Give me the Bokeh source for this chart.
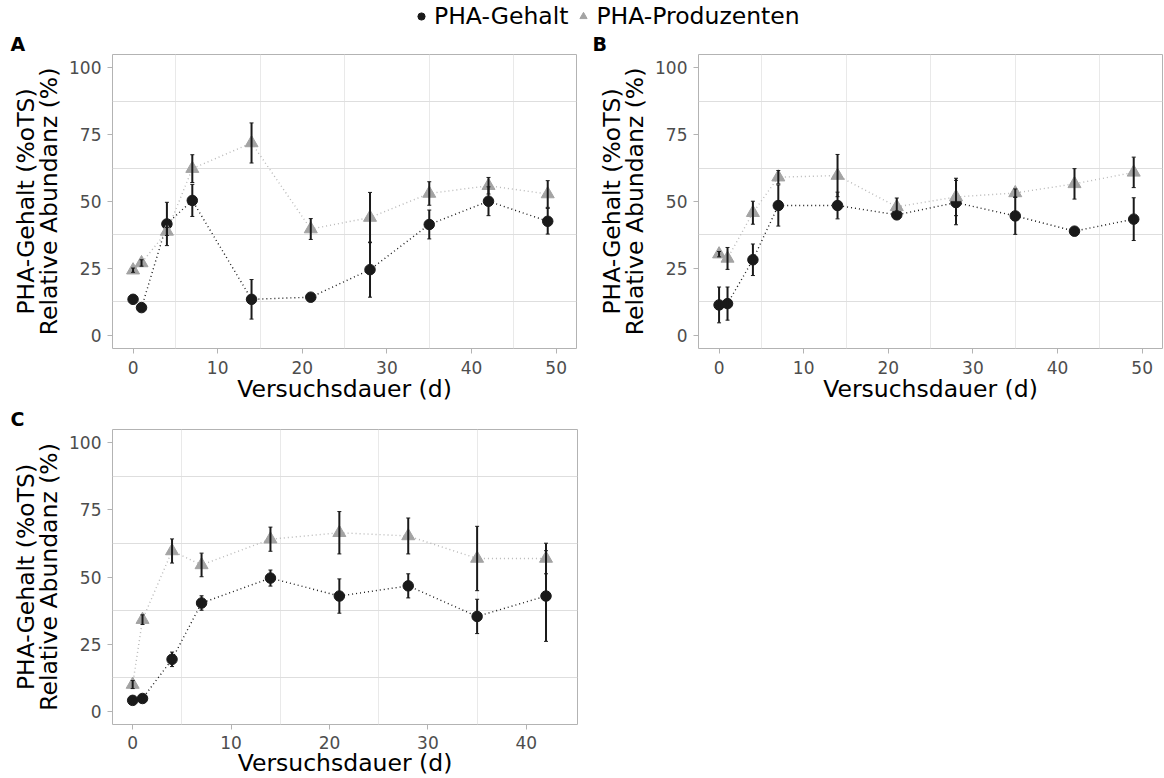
from bokeh.plotting import figure
from bokeh.models import Range1d, FixedTicker, Whisker, ColumnDataSource, Legend, LegendItem, TeeHead
from bokeh.layouts import column, row
from bokeh.embed import file_html
from bokeh.resources import INLINE

# Sampling days (d)
days_ab = [0, 1, 4, 7, 14, 21, 28, 35, 42, 49]
days_c = [0, 1, 4, 7, 14, 21, 28, 35, 42]

# Reactor A
a_gehalt = [13.4, 10.3, 41.6, 50.4, 13.4, 14.2, 24.5, 41.4, 50.1, 42.6]
a_gehalt_sd = [1.0, 0.8, 8.1, 6.0, 7.4, 0.8, 10.3, 5.4, 5.4, 4.8]
a_prod = [24.3, 27.0, 38.8, 62.3, 71.9, 39.7, 44.0, 53.0, 55.9, 52.8]
a_prod_sd = [0.8, 1.2, 1.5, 5.2, 7.5, 3.9, 9.4, 4.4, 3.1, 5.0]

# Reactor B
b_gehalt = [11.3, 11.8, 28.2, 48.5, 48.5, 45.0, 49.6, 44.6, 38.9, 43.4]
b_gehalt_sd = [6.7, 6.2, 5.9, 7.7, 5.0, 1.5, 8.3, 6.9, 1.5, 8.0]
b_prod = [30.3, 28.7, 45.8, 59.1, 59.7, 48.0, 51.7, 53.2, 56.6, 60.9]
b_prod_sd = [1.0, 4.1, 4.3, 2.5, 7.9, 3.3, 7.0, 1.5, 5.7, 5.7]

# Reactor C
c_gehalt = [4.0, 4.7, 19.3, 40.3, 49.6, 42.9, 46.7, 35.3, 42.9]
c_gehalt_sd = [0.8, 0.8, 2.7, 2.7, 3.0, 6.4, 4.5, 6.4, 16.9]
c_prod = [9.9, 34.1, 59.7, 54.5, 64.1, 66.5, 65.3, 56.9, 56.9]
c_prod_sd = [1.5, 1.8, 4.5, 4.4, 4.5, 7.9, 6.7, 12.0, 5.7]

y_ticks = [0, 25, 50, 75, 100]
x_ticks_ab = [0, 10, 20, 30, 40, 50]
x_ticks_c = [0, 10, 20, 30, 40]

series_labels = ["PHA-Gehalt", "PHA-Produzenten"]
x_title = "Versuchsdauer (d)"
y_title = "PHA-Gehalt (%oTS)\nRelative Abundanz (%)"

FONT = "DejaVu Sans"
BLACK = "#1a1a1a"
GREY = "#a3a3a3"
GREY_LINE = "#b8b8b8"
BORDER = "#b3b3b3"
TITLE_SIZE = "23.5px"


def panel(tag, days, geh, geh_sd, prod, prod_sd, x_start, x_end, x_ticks,
          frame_w, frame_h, left, right, top, bottom,
          tick_standoff, title_standoff):
    p = figure(frame_width=frame_w, frame_height=frame_h,
               x_range=Range1d(x_start, x_end), y_range=Range1d(-5, 105),
               min_border_left=left, min_border_right=right,
               min_border_top=top, min_border_bottom=bottom,
               output_backend="svg", toolbar_location=None)
    p.background_fill_color = "white"
    p.border_fill_color = "white"
    p.outline_line_color = BORDER
    p.outline_line_width = 1

    # panel tag in the upper left corner
    p.title.text = tag
    p.title.align = "left"
    p.title.offset = 10 - left
    p.title.standoff = 0
    p.title.text_font = FONT
    p.title.text_font_size = "19px"
    p.title.text_font_style = "bold"
    p.title.text_color = "black"

    # grid lines sit halfway between the labelled ticks
    p.xgrid.ticker = FixedTicker(ticks=[t + 5 for t in x_ticks[:-1]])
    p.ygrid.ticker = FixedTicker(ticks=[t + 12.5 for t in y_ticks[:-1]])
    p.xgrid.grid_line_color = "#e9e9e9"
    p.ygrid.grid_line_color = "#dedede"
    p.grid.grid_line_width = 1

    for ax in (p.xaxis[0], p.yaxis[0]):
        ax.axis_line_color = None
        ax.major_tick_line_color = BORDER
        ax.major_tick_in = 0
        ax.major_tick_out = 5
        ax.minor_tick_line_color = None
        ax.major_label_text_font = FONT
        ax.major_label_text_font_size = "17px"
        ax.major_label_text_color = "#4d4d4d"
        ax.axis_label_text_font = FONT
        ax.axis_label_text_font_size = TITLE_SIZE
        ax.axis_label_text_font_style = "normal"
        ax.axis_label_text_color = "black"

    p.xaxis.ticker = FixedTicker(ticks=x_ticks)
    p.yaxis.ticker = FixedTicker(ticks=y_ticks)
    p.xaxis.axis_label = x_title
    p.yaxis.axis_label = y_title
    p.xaxis.major_label_standoff = tick_standoff
    p.xaxis.axis_label_standoff = title_standoff
    p.yaxis.major_label_standoff = 6
    p.yaxis.axis_label_standoff = 3
    p.yaxis.axis_label_text_line_height = 0.82

    src_g = ColumnDataSource(dict(x=days, y=geh,
                                  lo=[v - s for v, s in zip(geh, geh_sd)],
                                  hi=[v + s for v, s in zip(geh, geh_sd)]))
    src_p = ColumnDataSource(dict(x=days, y=prod,
                                  lo=[v - s for v, s in zip(prod, prod_sd)],
                                  hi=[v + s for v, s in zip(prod, prod_sd)]))

    p.line("x", "y", source=src_p, line_color=GREY_LINE, line_width=1.4, line_dash="1 3")
    p.line("x", "y", source=src_g, line_color=BLACK, line_width=1.4, line_dash="1 3")
    p.scatter("x", "y", source=src_g, marker="circle", size=10.5,
              fill_color=BLACK, line_color=BLACK)
    p.scatter("x", "y", source=src_p, marker="triangle", size=13,
              fill_color=GREY, line_color=GREY)

    for src in (src_g, src_p):
        w = Whisker(source=src, base="x", lower="lo", upper="hi",
                    line_color=BLACK, line_width=2, level="annotation",
                    upper_head=TeeHead(size=4, line_color=BLACK, line_width=1),
                    lower_head=TeeHead(size=4, line_color=BLACK, line_width=1))
        p.add_layout(w)
    return p


pa = panel("A", days_ab, a_gehalt, a_gehalt_sd, a_prod, a_prod_sd,
           -2.43, 52.4, x_ticks_ab, 464, 294, 112, 6, 24, 56, 7, -2)
pb = panel("B", days_ab, b_gehalt, b_gehalt_sd, b_prod, b_prod_sd,
           -2.43, 52.4, x_ticks_ab, 464, 294, 116, 2, 24, 56, 7, -2)
pc = panel("C", days_c, c_gehalt, c_gehalt_sd, c_prod, c_prod_sd,
           -2.05, 45.2, x_ticks_c, 465, 295, 112, 5, 24, 55, 6, -3)

# legend strip across the top
leg = figure(width=1164, height=30, x_range=Range1d(100, 101), y_range=Range1d(200, 201),
             x_axis_type=None, y_axis_type=None, min_border=0,
             output_backend="svg", toolbar_location=None)
leg.outline_line_color = None
leg.grid.visible = False
r_g = leg.scatter(days_ab, a_gehalt, marker="circle", size=10, fill_color=BLACK, line_color=BLACK)
r_p = leg.scatter(days_ab, a_prod, marker="triangle", size=12, fill_color=GREY, line_color=GREY)
legend = Legend(items=[LegendItem(label=series_labels[0], renderers=[r_g]),
                       LegendItem(label=series_labels[1], renderers=[r_p])],
                orientation="horizontal", location=(300, 0),
                glyph_width=18, glyph_height=18, label_standoff=4, spacing=6,
                padding=0, margin=0, border_line_color=None, background_fill_alpha=0,
                label_text_font=FONT, label_text_font_size=TITLE_SIZE, label_text_color="black")
leg.add_layout(legend, "center")

layout = column(leg, row(pa, pb), pc, spacing=0)
open("out.html", "w").write(file_html(layout, INLINE))
